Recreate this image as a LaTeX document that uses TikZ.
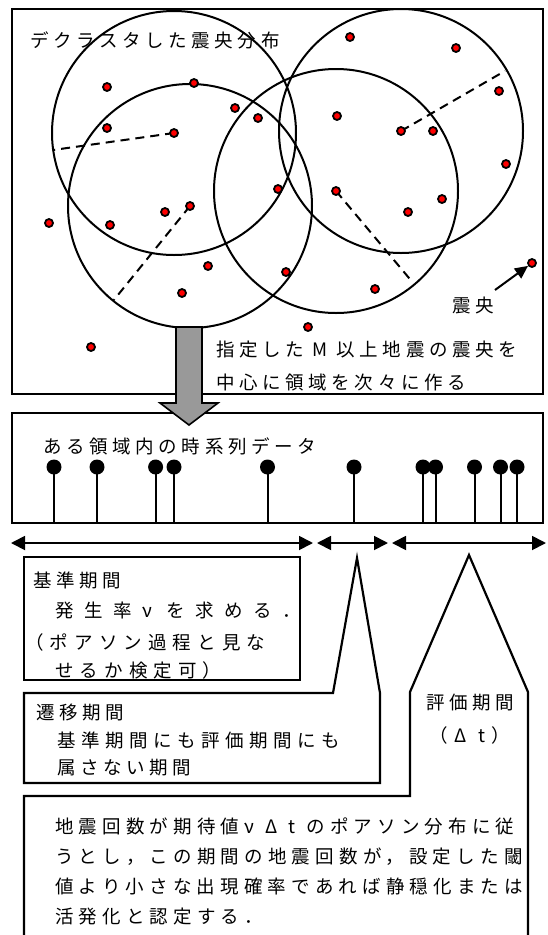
\documentclass[tikz,border=0pt]{standalone}
\usepackage{fontspec}
\setmainfont{Noto Sans CJK JP}
\newfontfamily\jp[LetterSpace=25]{Noto Sans CJK JP}
\newfontfamily\jpwide[LetterSpace=57]{Noto Sans CJK JP}
\newfontfamily\jpmid[LetterSpace=30]{Noto Sans CJK JP}
\newfontfamily\jpk[LetterSpace=33]{Noto Sans CJK JP}
\newfontfamily\jpd[LetterSpace=28]{Noto Sans CJK JP}
\usetikzlibrary{arrows.meta}
\definecolor{arrgray}{HTML}{999999}
\begin{document}
\begin{tikzpicture}[x=1pt,y=-1pt,
  box/.style={draw=black, line width=2.2pt, line join=miter},
  ring/.style={draw=black, line width=2pt},
  radius line/.style={draw=black, line width=2pt, dash pattern=on 9pt off 6pt},
  quake/.style={circle, draw=black, line width=1.8pt, fill=red, minimum size=8pt, inner sep=0pt},
  pinhead/.style={circle, fill=black, minimum size=15pt, inner sep=0pt},
  stem/.style={draw=black, line width=2pt},
  txt/.style={inner sep=0pt, anchor=west, font=\jp\fontsize{18.5}{22}\selectfont},
  ctxt/.style={inner sep=0pt, anchor=center, font=\jp\fontsize{18.5}{22}\selectfont},
  period/.style={draw=black, line width=1.8pt, {Triangle[length=14pt,width=14pt]}-{Triangle[length=14pt,width=14pt]}},
]
\useasboundingbox (0,0) rectangle (547,935);
\fill[white] (0,0) rectangle (547,935);

% ---------- top box: declustered epicentres ----------
\draw[box] (12,9) rectangle (543,394);
\node[txt] (title) at (30,40) {デクラスタした震央分布};

\coordinate (cA) at (174,133);
\coordinate (cB) at (190,206);
\coordinate (cC) at (401,131);
\coordinate (cD) at (336,191);
\draw[ring] (cA) circle[radius=122pt];
\draw[ring] (cB) circle[radius=122pt];
\draw[ring] (cC) circle[radius=122pt];
\draw[ring] (cD) circle[radius=122pt];
\coordinate (rA) at ([shift={(188:122pt)}]cA);
\coordinate (rB) at ([shift={(231:121pt)}]cB);
\coordinate (rC) at ([shift={(30:120pt)}]cC);
\coordinate (rD) at ([shift={(310:120pt)}]cD);
\draw[radius line] (cA) -- (rA);
\draw[radius line] (cB) -- (rB);
\draw[radius line] (cC) -- (rC);
\draw[radius line] (cD) -- (rD);

\node[quake] (e1) at (350,37) {};
\node[quake] (e2) at (456,48) {};
\node[quake] (e3) at (107,87) {};
\node[quake] (e4) at (194,83) {};
\node[quake] (e5) at (235,108) {};
\node[quake] (e6) at (258,118) {};
\node[quake] (e7) at (337,116) {};
\node[quake] (e8) at (499,91) {};
\node[quake] (e9) at (107,128) {};
\node[quake] (e10) at (cA) {};
\node[quake] (e11) at (cC) {};
\node[quake] (e12) at (433,131) {};
\node[quake] (e13) at (506,164) {};
\node[quake] (e14) at (278,189) {};
\node[quake] (e15) at (cD) {};
\node[quake] (e16) at (442,199) {};
\node[quake] (e17) at (49,223) {};
\node[quake] (e18) at (110,225) {};
\node[quake] (e19) at (165,212) {};
\node[quake] (e20) at (cB) {};
\node[quake] (e21) at (408,212) {};
\node[quake] (e22) at (208,266) {};
\node[quake] (e23) at (286,272) {};
\node[quake] (e24) at (532,263) {};
\node[quake] (e25) at (182,293) {};
\node[quake] (e26) at (375,289) {};
\node[quake] (e27) at (308,327) {};
\node[quake] (e28) at (91,347) {};

\node[ctxt] (lblquake) at (473,305) {震央};
\coordinate (lblarrow) at (495,290);
\draw[draw=black, line width=2pt, -{Triangle[length=13pt,width=12pt]}] (lblarrow) -- (e24);

\node[txt] (inst1) at (216,350) {指定した M 以上地震の震央を};
\node[txt] (inst2) at (216,382) {中心に領域を次々に作る};

% ---------- time series box ----------
\draw[box] (12,413) rectangle (543,523);
\node[txt] (tstitle) at (43,446) {ある領域内の時系列データ};
\foreach \i/\x in {1/54,2/97,3/155.6,4/174,5/267.5,6/354,7/423,8/435.5,9/474.5,10/500.5,11/517}{
  \coordinate (b\i) at (\x,523);
  \node[pinhead] (p\i) at (\x,467) {};
  \draw[stem] (b\i) -- (p\i.center);
}

% ---------- big gray arrow ----------
\draw[draw=black, line width=1.6pt, fill=arrgray, line join=miter]
  (176,327) -- (202,327) -- (202,403) -- (218,403) -- (189,425) -- (160,403) -- (176,403) -- cycle;

% ---------- period arrows ----------
\coordinate (a1l) at (11,543);  \coordinate (a1r) at (313,543);
\coordinate (a2l) at (317,543); \coordinate (a2r) at (388,543);
\coordinate (a3l) at (392,543); \coordinate (a3r) at (546,543);
\draw[period] (a1l) -- (a1r);
\draw[period] (a2l) -- (a2r);
\draw[period] (a3l) -- (a3r);

% ---------- callouts ----------
\draw[box, fill=white] (24,557) rectangle (300,680);
\node[txt] (k1) at (33,580) {基準期間};
\node[txt, font=\jpwide\fontsize{18.5}{22}\selectfont] (k2) at (55,611) {発生率ν を求める．};
\node[txt, font=\jpk\fontsize{18.5}{22}\selectfont] (k3) at (25,642) {（ポアソン過程と見な};
\node[txt, font=\jpk\fontsize{18.5}{22}\selectfont] (k4) at (55,670) {せるか検定可）};

\draw[box, fill=white] (24,693) -- (333,693) -- (357,558) -- (380,693) -- (380,783) -- (24,783) -- cycle;
\node[txt] (s1) at (36,712) {遷移期間};
\node[txt, font=\jpmid\fontsize{18.5}{22}\selectfont] (s2) at (57,740) {基準期間にも評価期間にも};
\node[txt] (s3) at (57,768) {属さない期間};

\draw[box] (24,945) -- (24,796) -- (410,796) -- (410,692) -- (469,555) -- (528,692) -- (528,945);
\node[ctxt] (h1) at (470,703) {評価期間};
\node[ctxt] (h2) at (470,735) {（\hspace{6pt}Δ\hspace{12pt}t\hspace{6pt}）};

\node[txt, font=\jpd\fontsize{18.5}{22}\selectfont] (d1) at (55,826) {地震回数が期待値ν\hspace{11pt}Δ\hspace{11pt}t\hspace{11pt}のポアソン分布に従};
\node[txt, font=\jpd\fontsize{18.5}{22}\selectfont] (d2) at (55,857) {うとし，この期間の地震回数が，設定した閾};
\node[txt, font=\jpd\fontsize{18.5}{22}\selectfont] (d3) at (55,887) {値より小さな出現確率であれば静穏化または};
\node[txt, font=\jpd\fontsize{18.5}{22}\selectfont] (d4) at (55,917) {活発化と認定する．};
\end{tikzpicture}
\end{document}
